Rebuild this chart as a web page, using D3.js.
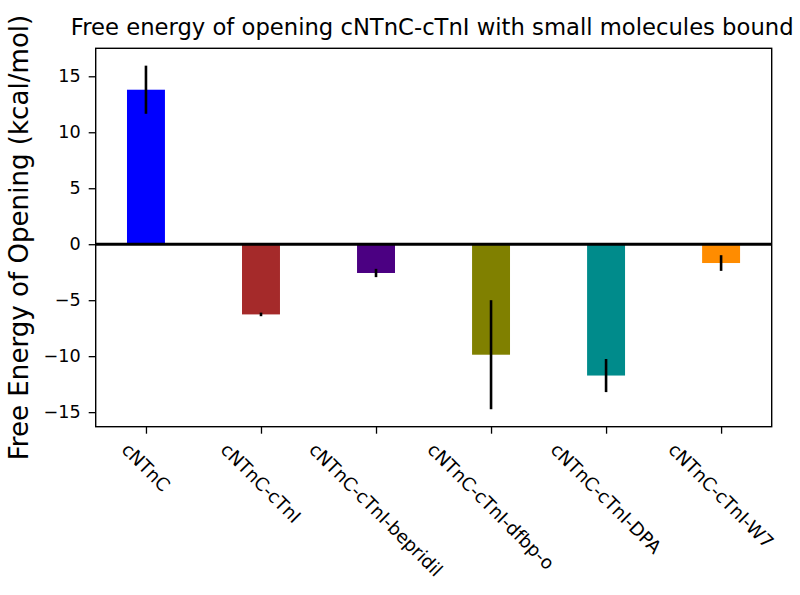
<!DOCTYPE html>
<html>
<head>
<meta charset="utf-8">
<script src="https://cdn.jsdelivr.net/npm/d3@7"></script>
<style>
  html, body { margin: 0; padding: 0; background: #fff; }
  svg { display: block; font-family: "DejaVu Sans", sans-serif; }
</style>
</head>
<body>
<svg id="chart" width="800" height="595"></svg>
<script>
const categories = ["cNTnC", "cNTnC-cTnI", "cNTnC-cTnI-bepridil", "cNTnC-cTnI-dfbp-o", "cNTnC-cTnI-DPA", "cNTnC-cTnI-W7"];
const values = [13.8, -6.27, -2.57, -9.87, -11.73, -1.68];
const errors = [2.15, 0.16, 0.37, 4.87, 1.48, 0.7];
const colors = ["#0000ff", "#a52a2a", "#4b0082", "#808000", "#008b8b", "#ff8c00"];
const yTicks = [-15, -10, -5, 0, 5, 10, 15];
const title = "Free energy of opening cNTnC-cTnI with small molecules bound";
const yLabel = "Free Energy of Opening (kcal/mol)";

const svg = d3.select("#chart");
const L = 95.7, R = 771.7, T = 48.3, B = 426.7;
const barW = 0.33;

const x = d3.scaleLinear().domain([-0.437, 5.44]).range([L, R]);
const y = d3.scaleLinear().domain([-16.3, 17.5]).range([B, T]);

const data = categories.map((c, i) => ({c, i, v: values[i], e: errors[i], col: colors[i]}));

// bars
svg.append("g").selectAll("rect").data(data).join("rect")
  .attr("x", d => x(d.i - barW / 2))
  .attr("width", d => x(d.i + barW / 2) - x(d.i - barW / 2))
  .attr("y", d => y(Math.max(0, d.v)))
  .attr("height", d => Math.abs(y(d.v) - y(0)))
  .attr("fill", d => d.col);

// zero line
svg.append("line")
  .attr("x1", L).attr("x2", R)
  .attr("y1", y(0)).attr("y2", y(0))
  .attr("stroke", "#000").attr("stroke-width", 3);

// error bars
svg.append("g").selectAll("line").data(data).join("line")
  .attr("x1", d => x(d.i)).attr("x2", d => x(d.i))
  .attr("y1", d => y(d.v + d.e)).attr("y2", d => y(d.v - d.e))
  .attr("stroke", "#000").attr("stroke-width", 2.6);

// y axis
const yAxis = d3.axisLeft(y).tickValues(yTicks).tickSize(7).tickPadding(8).tickFormat(d3.format("d"));
const gy = svg.append("g").attr("transform", `translate(${L},0)`).call(yAxis);
gy.select(".domain").remove();
gy.selectAll("line").attr("stroke", "#000").attr("stroke-width", 1.3);
gy.selectAll("text").attr("font-size", 17.6).attr("font-family", "DejaVu Sans").attr("fill", "#000");

// x axis
const xAxis = d3.axisBottom(x).tickValues(d3.range(categories.length)).tickSize(7).tickFormat(() => "");
const gx = svg.append("g").attr("transform", `translate(0,${B})`).call(xAxis);
gx.select(".domain").remove();
gx.selectAll("line").attr("stroke", "#000").attr("stroke-width", 1.3);

// rotated x labels
const fs = 18.3, labTop = B + 13;
svg.append("g").selectAll("text").data(data).join("text")
  .attr("font-size", fs)
  .attr("fill", "#000")
  .attr("text-anchor", "middle")
  .attr("dominant-baseline", "central")
  .text(d => d.c)
  .each(function(d) {
    const len = this.getComputedTextLength();
    const h = fs * 1.0;
    const half = (len + h) * Math.SQRT1_2 / 2;
    d3.select(this).attr("transform", `translate(${x(d.i)},${labTop + half}) rotate(45)`);
  });

// frame
svg.append("rect")
  .attr("x", L).attr("y", T).attr("width", R - L).attr("height", B - T)
  .attr("fill", "none").attr("stroke", "#000").attr("stroke-width", 1.4);

// title
svg.append("text")
  .attr("x", (L + R) / 2 - 1.5).attr("y", 34.5)
  .attr("text-anchor", "middle")
  .attr("font-size", 22.7).attr("fill", "#000")
  .text(title);

// y label
svg.append("text")
  .attr("transform", `translate(28,${(T + B) / 2}) rotate(-90)`)
  .attr("text-anchor", "middle")
  .attr("font-size", 26.1).attr("fill", "#000")
  .text(yLabel);
</script>
</body>
</html>
